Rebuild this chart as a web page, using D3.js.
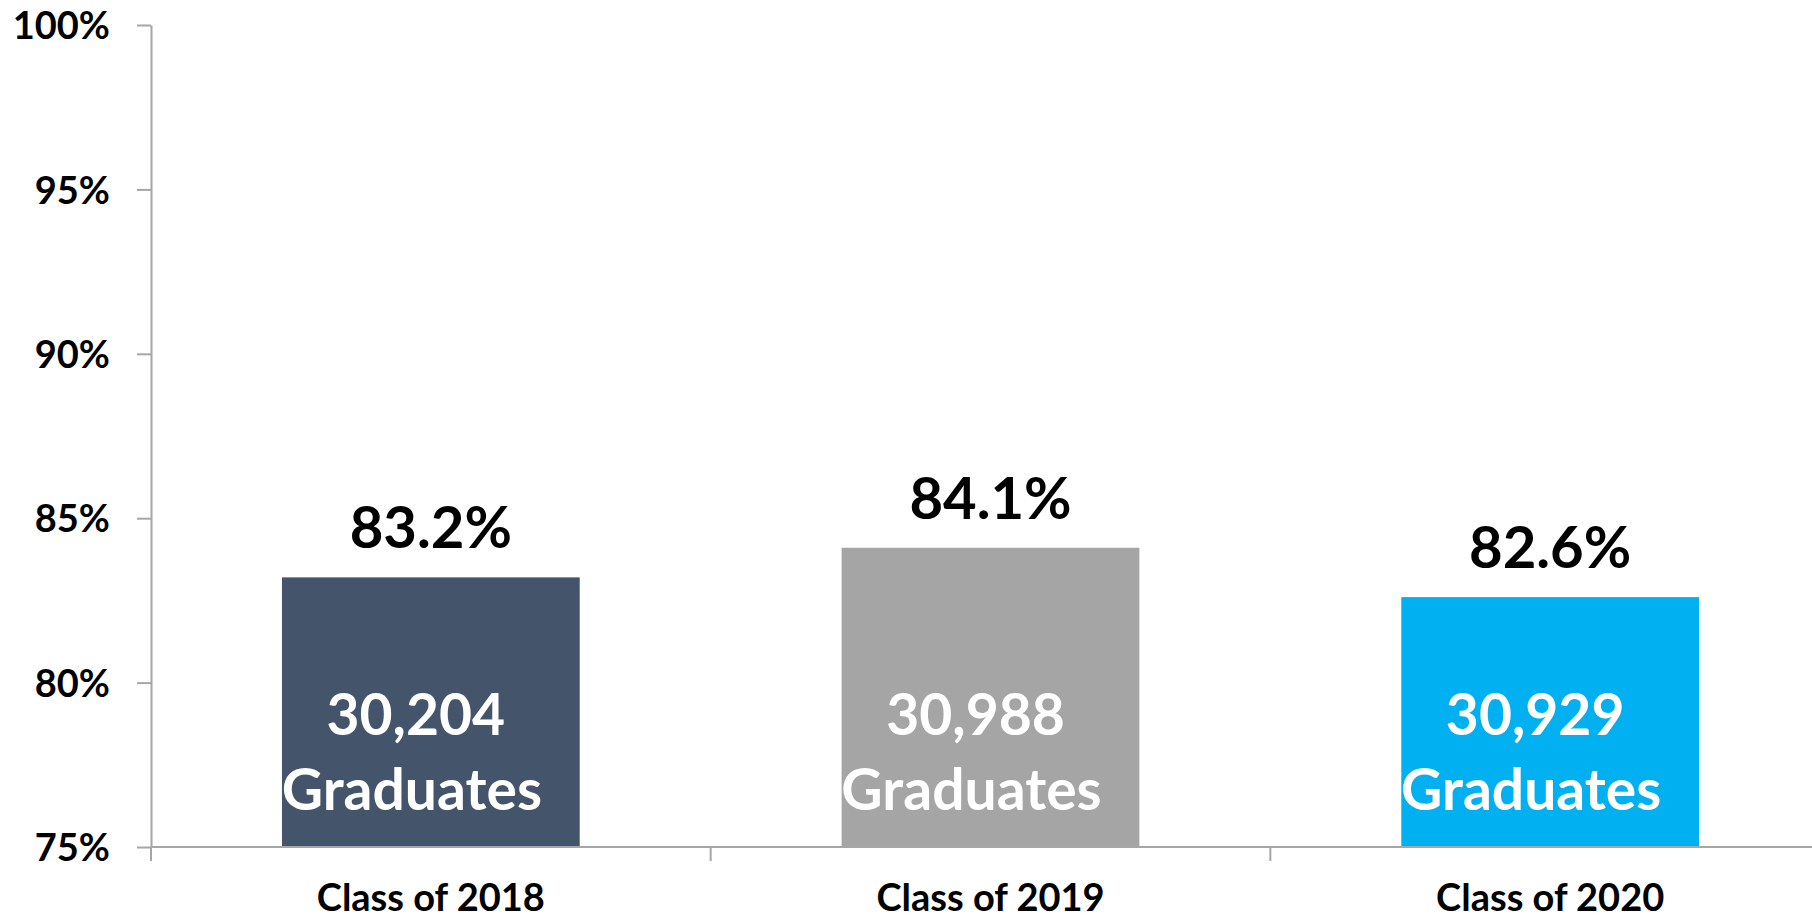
<!DOCTYPE html>
<html>
<head>
<meta charset="utf-8">
<script src="https://cdn.jsdelivr.net/npm/d3@7"></script>
<style>
  body { margin: 0; background: #fff; }
  text { font-family: Lato, "Open Sans", sans-serif; font-weight: bold; }
</style>
</head>
<body>
<div id="chart"></div>
<script>
// data
const classes = ["Class of 2018", "Class of 2019", "Class of 2020"];
const rates = [0.832, 0.841, 0.826];
const graduates = [30204, 30988, 30929];
const barColors = ["#44546a", "#a5a5a5", "#00b0f0"];
const yTicks = [0.75, 0.8, 0.85, 0.9, 0.95, 1.0];

const width = 1812, height = 920;
const margin = { top: 25, right: -18, bottom: 73, left: 151 };

const svg = d3
  .select("#chart")
  .append("svg")
  .attr("width", width)
  .attr("height", height);

// scales
const x = d3
  .scaleBand()
  .domain(classes)
  .range([margin.left, width - margin.right])
  .paddingInner(0.468)
  .paddingOuter(0.234);

const y = d3
  .scaleLinear()
  .domain([0.75, 1.0])
  .range([height - margin.bottom, margin.top]);

const axisColor = "#a6a6a6";

// bars
svg
  .selectAll("rect.bar")
  .data(classes)
  .join("rect")
  .attr("class", "bar")
  .attr("x", (d) => x(d))
  .attr("y", (d, i) => y(rates[i]))
  .attr("width", x.bandwidth())
  .attr("height", (d, i) => y(0.75) - y(rates[i]))
  .attr("fill", (d, i) => barColors[i]);

// y axis
const yAxis = svg
  .append("g")
  .attr("transform", `translate(${margin.left},0)`)
  .call(
    d3.axisLeft(y)
      .tickValues(yTicks)
      .tickSize(14)
      .tickSizeOuter(0)
      .tickPadding(27)
      .tickFormat(d3.format(".0%"))
  );
yAxis.select(".domain").attr("stroke", axisColor).attr("stroke-width", 2);
yAxis.selectAll(".tick line").attr("stroke", axisColor).attr("stroke-width", 2);
yAxis
  .selectAll(".tick text")
  .attr("fill", "#000")
  .style("font-size", "38px")
  .attr("dy", "0.36em");

// x axis: ticks at category boundaries
const step = x.step();
const boundaries = classes.map((d) => x(d) - (step - x.bandwidth()) / 2);
svg
  .append("line")
  .attr("x1", margin.left)
  .attr("x2", width)
  .attr("y1", y(0.75))
  .attr("y2", y(0.75))
  .attr("stroke", axisColor)
  .attr("stroke-width", 2);
svg
  .selectAll("line.xtick")
  .data(boundaries)
  .join("line")
  .attr("class", "xtick")
  .attr("x1", (d) => d)
  .attr("x2", (d) => d)
  .attr("y1", y(0.75))
  .attr("y2", y(0.75) + 14)
  .attr("stroke", axisColor)
  .attr("stroke-width", 2);

svg
  .selectAll("text.xlabel")
  .data(classes)
  .join("text")
  .attr("class", "xlabel")
  .attr("x", (d) => x(d) + x.bandwidth() / 2)
  .attr("y", y(0.75) + 64)
  .attr("text-anchor", "middle")
  .style("font-size", "38px")
  .attr("fill", "#000")
  .text((d) => d);

// value labels above bars
svg
  .selectAll("text.value")
  .data(classes)
  .join("text")
  .attr("class", "value")
  .attr("x", (d) => x(d) + x.bandwidth() / 2)
  .attr("y", (d, i) => y(rates[i]) - 29)
  .attr("text-anchor", "middle")
  .style("font-size", "58px")
  .attr("fill", "#000")
  .text((d, i) => d3.format(".1%")(rates[i]));

// graduate counts inside bars
const inner = svg
  .selectAll("text.grads")
  .data(classes)
  .join("text")
  .attr("class", "grads")
  .attr("x", (d) => x(d) + x.bandwidth() / 2 - 17)
  .attr("y", y(0.75) - 112)
  .attr("text-anchor", "middle")
  .style("font-size", "57px")
  .attr("fill", "#fff");
inner
  .append("tspan")
  .attr("x", (d) => x(d) + x.bandwidth() / 2 - 15)
  .text((d, i) => d3.format(",")(graduates[i]));
inner
  .append("tspan")
  .attr("x", (d) => x(d) + x.bandwidth() / 2 - 19)
  .attr("dy", 75)
  .text("Graduates");
</script>
</body>
</html>
